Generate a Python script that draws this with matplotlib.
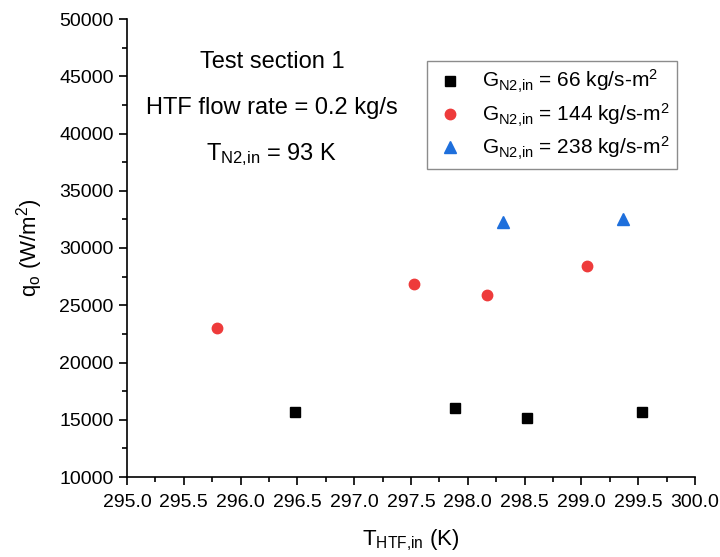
import matplotlib
matplotlib.use("Agg")
import matplotlib.pyplot as plt
from matplotlib.ticker import MultipleLocator, FormatStrFormatter

plt.rcParams['font.family'] = ['Liberation Sans', 'DejaVu Sans']
plt.rcParams['mathtext.fontset'] = 'custom'
plt.rcParams['mathtext.rm'] = 'Liberation Sans'
plt.rcParams['mathtext.it'] = 'Liberation Sans'

x_66 = [296.48, 297.89, 298.52, 299.53]
q_66 = [15700, 16050, 15130, 15680]
x_144 = [295.79, 297.53, 298.17, 299.05]
q_144 = [23040, 26860, 25870, 28460]
x_238 = [298.31, 299.37]
q_238 = [32300, 32550]

labels = [r'G$_{\mathrm{N2{,}in}}$ = 66 kg/s-m$^{2}$',
          r'G$_{\mathrm{N2{,}in}}$ = 144 kg/s-m$^{2}$',
          r'G$_{\mathrm{N2{,}in}}$ = 238 kg/s-m$^{2}$']

fig = plt.figure(figsize=(7.2, 5.57), dpi=100)
ax = fig.add_axes([127/720, 1-477/557, (695-127)/720, (477-19)/557])

ax.plot(x_66, q_66, 's', color='black', markersize=7.5, linestyle='none', label=labels[0])
ax.plot(x_144, q_144, 'o', color='#EE3B3B', markersize=7.5, linestyle='none', label=labels[1])
ax.plot(x_238, q_238, '^', color='#1E6FDC', markersize=8.5, linestyle='none', label=labels[2])

ax.set_xlim(295, 300)
ax.set_ylim(10000, 50000)
ax.xaxis.set_major_locator(MultipleLocator(0.5))
ax.xaxis.set_minor_locator(MultipleLocator(0.25))
ax.yaxis.set_major_locator(MultipleLocator(5000))
ax.yaxis.set_minor_locator(MultipleLocator(2500))
ax.xaxis.set_major_formatter(FormatStrFormatter('%.1f'))
for s in ['top', 'right']:
    ax.spines[s].set_visible(False)
for s in ['left', 'bottom']:
    ax.spines[s].set_linewidth(1.2)
ax.tick_params(which='major', direction='out', length=6, width=1.2, labelsize=14)
ax.tick_params(axis='x', which='major', pad=6)
ax.tick_params(which='minor', direction='out', length=3.5, width=1.2)

ax.set_xlabel(r'T$_{\mathrm{HTF{,}in}}$ (K)', fontsize=16, labelpad=12)
ax.set_ylabel(r'q$_{\mathrm{o}}$ (W/m$^{2}$)', fontsize=16, labelpad=10)

fig.text(272/720, 1-62/557, 'Test section 1', fontsize=17, ha='center', va='center')
fig.text(272/720, 1-108/557, 'HTF flow rate = 0.2 kg/s', fontsize=17, ha='center', va='center')
fig.text(272/720, 1-155/557, r'T$_{\mathrm{N2{,}in}}$ = 93 K', fontsize=17, ha='center', va='center')

leg = ax.legend(loc='upper left', bbox_to_anchor=((427-127)/568, 1-(61-19)/458),
                borderaxespad=0, fontsize=15, frameon=True, fancybox=False,
                edgecolor='#707070', handletextpad=0.8, borderpad=0.35,
                labelspacing=0.3, handlelength=1.5)
leg.get_frame().set_linewidth(1.0)

fig.savefig('out.png', dpi=100)
